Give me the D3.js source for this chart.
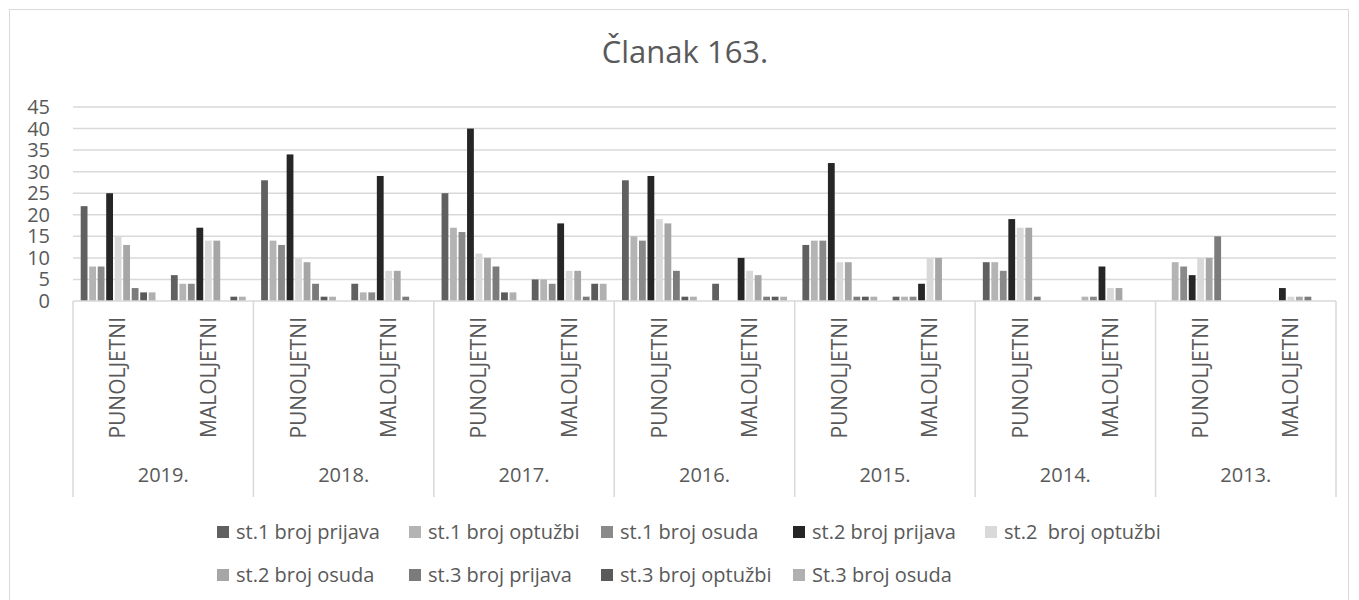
<!DOCTYPE html>
<html>
<head>
<meta charset="utf-8">
<script src="https://cdn.jsdelivr.net/npm/d3@7"></script>
<style>
  body { margin: 0; background: #fff; }
  text { font-family: "Open Sans", "Liberation Sans", sans-serif; fill: #595959; }
  .legend-label { white-space: pre; }
</style>
</head>
<body>
<div id="chart"></div>
<script>
// 데이터
const years = ['2019.', '2018.', '2017.', '2016.', '2015.', '2014.', '2013.'];
const groups = ['PUNOLJETNI', 'MALOLJETNI'];
const seriesNames = ['st.1 broj prijava', 'st.1 broj optužbi', 'st.1 broj osuda',
    'st.2 broj prijava', 'st.2  broj optužbi', 'st.2 broj osuda',
    'st.3 broj prijava', 'st.3 broj optužbi', 'St.3 broj osuda'];
const seriesColors = ['#606060', '#b4b4b4', '#8a8a8a', '#262626', '#d9d9d9',
    '#a6a6a6', '#7b7b7b', '#5a5a5a', '#b0b0b0'];

// 순서: 2019 P, 2019 M, 2018 P, 2018 M, ... 2013 M
const st1Prijava = [22, 6, 28, 4, 25, 5, 28, 4, 13, 1, 9, 0, 0, 0];
const st1Optuzbi = [8, 4, 14, 2, 17, 5, 15, 0, 14, 1, 9, 1, 9, 0];
const st1Osuda   = [8, 4, 13, 2, 16, 4, 14, 0, 14, 1, 7, 1, 8, 0];
const st2Prijava = [25, 17, 34, 29, 40, 18, 29, 10, 32, 4, 19, 8, 6, 3];
const st2Optuzbi = [15, 14, 10, 7, 11, 7, 19, 7, 9, 10, 17, 3, 10, 1];
const st2Osuda   = [13, 14, 9, 7, 10, 7, 18, 6, 9, 10, 17, 3, 10, 1];
const st3Prijava = [3, 0, 4, 1, 8, 1, 7, 1, 1, 0, 1, 0, 15, 1];
const st3Optuzbi = [2, 1, 1, 0, 2, 4, 1, 1, 1, 0, 0, 0, 0, 0];
const st3Osuda   = [2, 1, 1, 0, 2, 4, 1, 1, 1, 0, 0, 0, 0, 0];
const yTicks = [0, 5, 10, 15, 20, 25, 30, 35, 40, 45];

const seriesValues = [st1Prijava, st1Optuzbi, st1Osuda, st2Prijava, st2Optuzbi,
    st2Osuda, st3Prijava, st3Optuzbi, st3Osuda];

// 레이아웃
const W = 1359, H = 600;
const plot = { left: 73, right: 1336, top: 107, bottom: 301 };
const axisBottom = 497;

const svg = d3.select('#chart').append('svg')
    .attr('width', W).attr('height', H);

// 외곽선
svg.append('rect')
    .attr('x', 9.5).attr('y', 9.5)
    .attr('width', 1339).attr('height', 620)
    .attr('fill', 'none').attr('stroke', '#d9d9d9').attr('stroke-width', 1);

// 제목
svg.append('text')
    .attr('x', 685).attr('y', 63)
    .attr('text-anchor', 'middle')
    .attr('font-size', '31px')
    .text('Članak 163.');

const y = d3.scaleLinear().domain([0, 45]).range([plot.bottom, plot.top]);
const x0 = d3.scaleBand().domain(years).range([plot.left, plot.right]);
const x1 = d3.scaleBand().domain(groups).range([0, x0.bandwidth()]);
const x2 = d3.scaleBand().domain(seriesNames)
    .range([7.7, x1.bandwidth() - 7.7]).paddingInner(0.2);

// 그리드 라인
svg.append('g').selectAll('line')
    .data(yTicks.filter(t => t > 0))
    .join('line')
    .attr('x1', plot.left).attr('x2', plot.right)
    .attr('y1', d => y(d)).attr('y2', d => y(d))
    .attr('stroke', '#d9d9d9').attr('stroke-width', 1.5);

// Y축 라벨
svg.append('g').selectAll('text')
    .data(yTicks)
    .join('text')
    .attr('x', 50).attr('y', d => y(d))
    .attr('dy', '0.35em')
    .attr('text-anchor', 'end')
    .attr('font-size', '20px')
    .text(d => d);

// 막대
const cats = [];
years.forEach(yr => groups.forEach(g => cats.push({ year: yr, group: g })));

seriesNames.forEach((name, si) => {
    svg.append('g').selectAll('rect')
        .data(seriesValues[si].map((v, i) => ({ v, cat: cats[i] })))
        .join('rect')
        .attr('x', d => x0(d.cat.year) + x1(d.cat.group) + x2(name))
        .attr('y', d => y(d.v))
        .attr('width', x2.bandwidth())
        .attr('height', d => y(0) - y(d.v))
        .attr('fill', seriesColors[si]);
});

// 카테고리 축
svg.append('line')
    .attr('x1', plot.left).attr('x2', plot.right)
    .attr('y1', plot.bottom).attr('y2', plot.bottom)
    .attr('stroke', '#d9d9d9').attr('stroke-width', 1.5);

const bounds = years.map(yr => x0(yr)).concat([plot.right]);
svg.append('g').selectAll('line')
    .data(bounds)
    .join('line')
    .attr('x1', d => d).attr('x2', d => d)
    .attr('y1', plot.bottom).attr('y2', axisBottom)
    .attr('stroke', '#d9d9d9').attr('stroke-width', 1.5);

// 하위 카테고리 라벨 (세로)
svg.append('g').selectAll('text')
    .data(cats)
    .join('text')
    .attr('transform', d => `translate(${x0(d.year) + x1(d.group) + x1.bandwidth() / 2},317) rotate(-90)`)
    .attr('dy', '0.35em')
    .attr('text-anchor', 'end')
    .attr('font-size', '21px')
    .text(d => d.group);

// 연도 라벨
svg.append('g').selectAll('text')
    .data(years)
    .join('text')
    .attr('x', d => x0(d) + x0.bandwidth() / 2)
    .attr('y', 482)
    .attr('text-anchor', 'middle')
    .attr('font-size', '20px')
    .text(d => d);

// 범례 (5열)
const legendX0 = 217, colW = 192;
const legendRows = [532, 575];
const legend = svg.append('g').selectAll('g')
    .data(seriesNames)
    .join('g')
    .attr('transform', (d, i) => `translate(${legendX0 + (i % 5) * colW},${legendRows[Math.floor(i / 5)]})`);

legend.append('rect')
    .attr('x', 0).attr('y', -6)
    .attr('width', 12).attr('height', 12)
    .attr('fill', (d, i) => seriesColors[i]);

legend.append('text')
    .attr('class', 'legend-label')
    .attr('x', 19).attr('dy', '0.35em')
    .attr('font-size', '20px')
    .text(d => d);
</script>
</body>
</html>
